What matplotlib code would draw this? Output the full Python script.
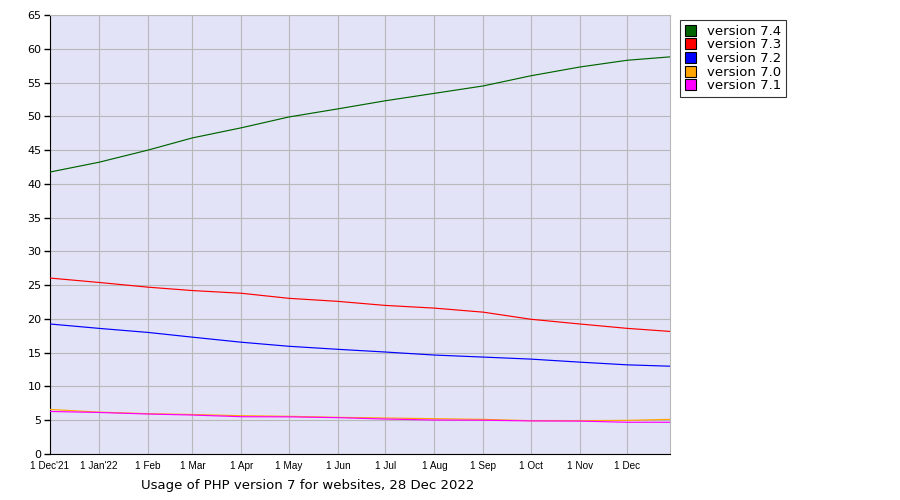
import pandas as pd
import matplotlib
matplotlib.use("Agg")
import matplotlib.pyplot as plt
from matplotlib.patches import Patch

dates = [
    "2021-12-01", "2022-01-01", "2022-02-01", "2022-03-01", "2022-04-01",
    "2022-05-01", "2022-06-01", "2022-07-01", "2022-08-01", "2022-09-01",
    "2022-10-01", "2022-11-01", "2022-12-01", "2022-12-28",
]
v74 = [41.75, 43.2, 45.0, 46.8, 48.3, 49.9, 51.1, 52.3, 53.4, 54.5, 56.0, 57.3, 58.3, 58.8]
v73 = [26.05, 25.4, 24.7, 24.2, 23.8, 23.05, 22.6, 22.0, 21.6, 21.0, 19.95, 19.25, 18.6, 18.15]
v72 = [19.25, 18.6, 18.0, 17.3, 16.55, 15.95, 15.5, 15.1, 14.65, 14.35, 14.05, 13.6, 13.2, 13.0]
v70 = [6.6, 6.2, 5.97, 5.85, 5.67, 5.58, 5.43, 5.33, 5.23, 5.13, 4.93, 4.93, 4.98, 5.13]
v71 = [6.3, 6.15, 5.92, 5.77, 5.52, 5.5, 5.38, 5.18, 5.03, 5.0, 4.9, 4.87, 4.7, 4.7]

series = [
    ("version 7.4", v74, "#006400"),
    ("version 7.3", v73, "#ff0000"),
    ("version 7.2", v72, "#0000ff"),
    ("version 7.0", v70, "#ffa500"),
    ("version 7.1", v71, "#ff00ff"),
]

tick_dates = dates[:13]
tick_labels = ["1 Dec'21", "1 Jan'22", "1 Feb", "1 Mar", "1 Apr", "1 May", "1 Jun",
               "1 Jul", "1 Aug", "1 Sep", "1 Oct", "1 Nov", "1 Dec"]
title = "Usage of PHP version 7 for websites, 28 Dec 2022"

x = pd.to_datetime(dates)

fig = plt.figure(figsize=(9, 5), dpi=100)
ax = fig.add_axes([50 / 900, 46 / 500, 620 / 900, 439 / 500])
ax.set_facecolor("#e3e3f8")

for label, vals, color in series:
    ax.plot(x, vals, color=color, lw=0.85, zorder=3)

ax.set_xlim(x[0], x[-1])
ax.set_ylim(0, 65)
ax.set_yticks(range(0, 66, 5))
ax.set_xticks(pd.to_datetime(tick_dates))
ax.set_xticklabels(tick_labels, family=["Liberation Sans Narrow", "Liberation Sans", "DejaVu Sans"],
                   fontsize=7.2)
ax.tick_params(axis="x", length=0, pad=5)
ax.tick_params(axis="y", length=4, width=1, direction="out", labelsize=8, pad=2)

ax.grid(True, color="#b8b8b8", lw=0.8, zorder=1)
ax.set_axisbelow(True)
ax.spines["left"].set_color("black")
ax.spines["bottom"].set_color("black")
ax.spines["top"].set_color("#b8b8b8")
ax.spines["right"].set_color("#b8b8b8")

handles = [Patch(facecolor=c, edgecolor="black", lw=0.8, label=l) for l, v, c in series]
leg = fig.legend(handles=handles, loc="upper left", bbox_to_anchor=(680 / 900, 1 - 20 / 500),
                 frameon=True, fancybox=False, edgecolor="black", fontsize=9.5,
                 handlelength=0.9, handleheight=0.9, handletextpad=0.8,
                 labelspacing=0.05, borderpad=0.35, borderaxespad=0)
leg.get_frame().set_linewidth(0.8)

fig.text(308 / 900, 1 - 486 / 500, title, ha="center", va="center", fontsize=9.5)

fig.savefig("out.png", dpi=100, facecolor="white")
